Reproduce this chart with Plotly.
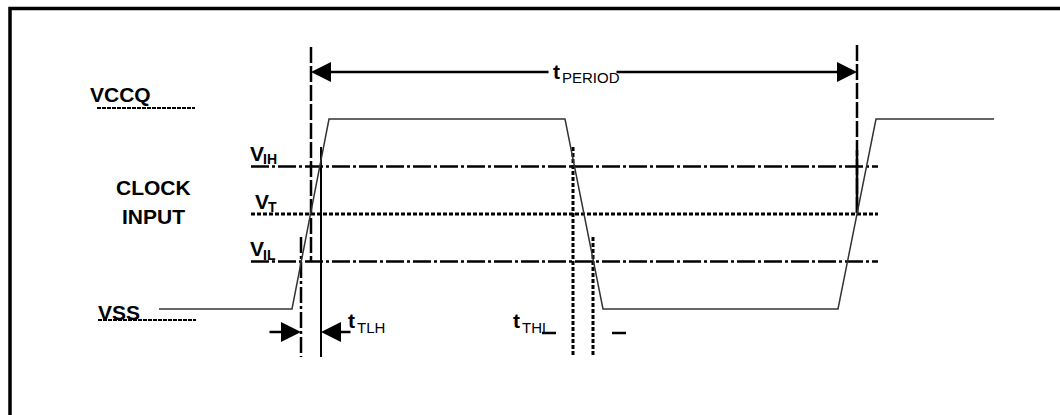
import plotly.graph_objects as go

# signal levels (normalised, VSS=0 .. VCCQ=1)
level_names = ["VCCQ", "V_IH", "V_T", "V_IL", "VSS"]
level_values = [1.0, 0.75, 0.5, 0.25, 0.0]

# clock waveform (time units, level)
wave_t = [159, 292, 329, 565, 603, 838, 876, 994]
wave_v = [0, 0, 1, 1, 0, 0, 1, 1]

# threshold lines span
thr_start, thr_end = 251, 878

# threshold crossing markers
cross_rise_vil = 301
cross_rise_vt = 311
cross_rise_vih = 321
cross_fall_vih = 573
cross_fall_vil = 593
cross_next_vt = 857

PX = 190.0   # pixels per level unit
Y0 = 309.0   # pixel row of VSS


def py(p):
    """pixel row -> level units (for text / helper placement)"""
    return (Y0 - p) / PX


FONT = "Liberation Sans, Arial, sans-serif"
INK = "#000000"

fig = go.Figure()


def seg(x, y, width=2, dash="solid", color=INK):
    fig.add_trace(go.Scatter(x=x, y=y, mode="lines", hoverinfo="skip",
                             showlegend=False,
                             line=dict(color=color, width=width, dash=dash)))


# threshold lines
lv = dict(zip(level_names, level_values))
seg([thr_start, thr_end], [lv["V_IH"]] * 2, 2.5, "18px,3px,3px,3px")
seg([thr_start, thr_end], [lv["V_T"]] * 2, 3, "4px,2px")
seg([thr_start, thr_end], [lv["V_IL"]] * 2, 2.5, "18px,3px,3px,3px")

# VCCQ / VSS dotted underlines
seg([97, 195], [lv["VCCQ"] + py(Y0 - 11)] * 2, 2, "4px,1px")
seg([98, 196], [lv["VSS"] - py(Y0 - 11)] * 2, 2, "4px,1px")

# vertical markers
seg([cross_rise_vt] * 2, [py(47), py(262)], 2.5, "16px,3px")
seg([cross_rise_vih] * 2, [py(147), py(357)], 2)
seg([cross_rise_vil] * 2, [py(237), py(357)], 2.5, "16px,3px,3px,3px")
seg([cross_fall_vih] * 2, [py(147), py(357)], 3, "4px,2px")
seg([cross_fall_vil] * 2, [py(237), py(357)], 3, "4px,2px")
seg([cross_next_vt] * 2, [py(45), py(213)], 2.5, "16px,3px")
seg([cross_next_vt] * 2, [py(150), py(213)], 2.5)

# waveform
seg(wave_t, wave_v, 1.5, color="#333333")

# tTHL stubs
seg([542, 556], [py(333)] * 2, 2.5)
seg([612, 626], [py(333)] * 2, 2.5)

# border
seg([10, 10, 1060], [py(415), py(8.5), py(8.5)], 3.5)

anns = []


def arrow(x, ax, y):
    anns.append(dict(x=x, y=y, ax=ax, ay=y, xref="x", yref="y", axref="x",
                     ayref="y", text="", showarrow=True, arrowhead=2,
                     arrowsize=1.6, arrowwidth=2.5, arrowcolor=INK))


arrow(cross_rise_vt, 550, py(72))
arrow(cross_next_vt, 615, py(72))
arrow(cross_rise_vil, 268, py(332))
arrow(cross_rise_vih, 352, py(332))


def label(x, ycen, text, size, bold=True, anchor="left"):
    anns.append(dict(x=x, y=py(ycen), xref="x", yref="y", text=text,
                     showarrow=False, xanchor=anchor, yanchor="middle",
                     borderpad=0,
                     font=dict(family=FONT, size=size, color=INK,
                               weight="bold" if bold else "normal")))


label(89, 94, "VCCQ", 21)
label(97, 312, "VSS", 21)
label(153, 187, "CLOCK", 21, anchor="center")
label(153, 216, "INPUT", 21, anchor="center")

label(249, 153, "V", 21)
label(262, 159, "IH", 14)
label(254, 201, "V", 21)
label(267, 207, "T", 14)
label(249, 248, "V", 21)
label(262, 255, "IL", 14)

label(552, 71, "t", 21)
label(561, 77, "PERIOD", 15, bold=False)
label(347, 320, "t", 21)
label(356, 327, "TLH", 15, bold=False)
label(512, 320, "t", 21)
label(521, 327, "THL", 15, bold=False)

fig.update_layout(
    width=1060, height=415,
    margin=dict(l=0, r=0, t=0, b=0),
    paper_bgcolor="white", plot_bgcolor="white",
    xaxis=dict(range=[0, 1060], visible=False, fixedrange=True),
    yaxis=dict(range=[py(415), py(0)], visible=False, fixedrange=True),
    annotations=anns,
    showlegend=False,
)

fig.write_html("out.html", config={"displayModeBar": False},
               post_script="document.body.style.margin='0';")
